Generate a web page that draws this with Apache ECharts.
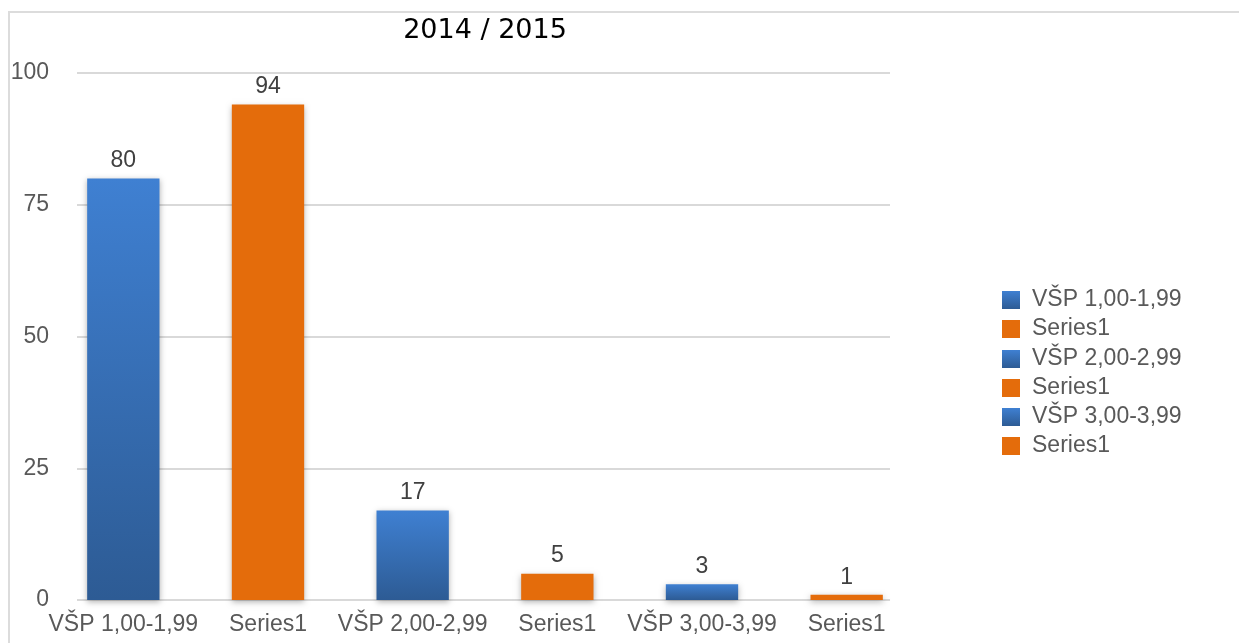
<!DOCTYPE html>
<html lang="cs">
<head>
    <meta charset="UTF-8">
    <title>2014 / 2015</title>
    <script src="https://cdn.jsdelivr.net/npm/echarts@6/dist/echarts.min.js"></script>
    <style>
        body { margin: 0; background: #fff; }
        #main { width: 1239px; height: 643px; }
        /* tenký rámeček nahoře a vlevo jako v originále */
        #frame {
            position: absolute; left: 8px; top: 11px; right: 0; bottom: 0;
            border-top: 2px solid #dcdcdc; border-left: 2px solid #dcdcdc;
            pointer-events: none;
        }
    </style>
</head>
<body>
    <div id="main"></div>
    <div id="frame"></div>

    <script type="text/javascript">
        // data
        const categories = ['VŠP 1,00-1,99', 'Series1', 'VŠP 2,00-2,99', 'Series1', 'VŠP 3,00-3,99', 'Series1'];
        const values = [80, 94, 17, 5, 3, 1];
        const yTicks = { min: 0, max: 100, interval: 25 };

        const blue = new echarts.graphic.LinearGradient(0, 0, 0, 1, [
            { offset: 0, color: '#3f80d2' },
            { offset: 1, color: '#2d5b94' }
        ]);
        const orange = '#e46c0b';
        const font = 'Liberation Sans, Arial, sans-serif';
        const fs = 23;

        var myChart = echarts.init(document.getElementById('main'));

        // jedna řada na kategorii, aby legenda měla 6 položek
        const series = categories.map(function (name, i) {
            const data = categories.map(function (_, j) { return j === i ? values[j] : '-'; });
            return {
                name: name,
                type: 'bar',
                stack: 'all',
                barWidth: '50%',
                data: data,
                itemStyle: {
                    color: i % 2 === 0 ? blue : orange,
                    shadowBlur: 6,
                    shadowColor: 'rgba(0,0,0,0.3)',
                    shadowOffsetY: 2
                },
                label: {
                    show: true,
                    position: 'top',
                    distance: 6,
                    color: '#404040',
                    fontSize: fs,
                    fontFamily: font
                }
            };
        });

        // legenda se stejnými jmény se slučuje -> tři legendy po dvou položkách
        const legendTops = [283, 342, 400];
        const legends = legendTops.map(function (top, k) {
            return {
                orient: 'vertical',
                left: 997,
                top: top,
                itemWidth: 18,
                itemHeight: 18,
                itemGap: 5,
                icon: 'rect',
                selectedMode: false,
                data: [categories[k * 2], categories[k * 2 + 1]],
                textStyle: {
                    color: '#595959',
                    fontSize: fs,
                    lineHeight: 24,
                    fontFamily: font,
                    padding: [0, 0, 0, 7]
                }
            };
        });

        var option = {
            animation: false,
            title: {
                text: '2014 / 2015',
                left: 480,
                top: 12,
                textAlign: 'center',
                textStyle: {
                    color: '#000',
                    fontSize: 27,
                    fontWeight: 'normal',
                    fontFamily: 'DejaVu Sans, sans-serif'
                }
            },
            legend: legends,
            // grid 0: sloupce, grid 1: mřížka a popisky osy y (kratší než sloupce)
            grid: [
                { left: 51, right: 320, top: 73, bottom: 43 },
                { left: 77, right: 349, top: 73, bottom: 43 }
            ],
            xAxis: [
                {
                    type: 'category',
                    gridIndex: 0,
                    data: categories,
                    axisLine: { show: false },
                    axisTick: { show: false },
                    axisLabel: {
                        color: '#595959',
                        fontSize: fs,
                        fontFamily: font,
                        margin: 13,
                        interval: 0
                    }
                },
                { type: 'value', gridIndex: 1, show: false }
            ],
            yAxis: [
                {
                    type: 'value',
                    gridIndex: 0,
                    min: yTicks.min,
                    max: yTicks.max,
                    interval: yTicks.interval,
                    show: false
                },
                {
                    type: 'value',
                    gridIndex: 1,
                    min: yTicks.min,
                    max: yTicks.max,
                    interval: yTicks.interval,
                    axisLine: { show: false },
                    axisTick: { show: false },
                    splitLine: { lineStyle: { color: '#d9d9d9', width: 2 } },
                    axisLabel: {
                        color: '#595959',
                        fontSize: fs,
                        fontFamily: font,
                        margin: 28
                    }
                }
            ],
            series: series
        };

        myChart.setOption(option);
    </script>
</body>
</html>
